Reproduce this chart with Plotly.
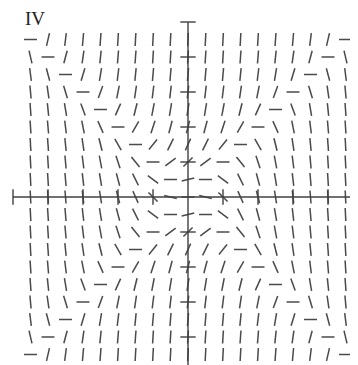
import numpy as np
from plotly import graph_objects as go

# slope field for dy/dx = y^2 - x^2, sampled on a half-unit grid
x_vals = [-4.5, -4.0, -3.5, -3.0, -2.5, -2.0, -1.5, -1.0, -0.5, 0.0,
          0.5, 1.0, 1.5, 2.0, 2.5, 3.0, 3.5, 4.0, 4.5]
y_vals = [-4.5, -4.0, -3.5, -3.0, -2.5, -2.0, -1.5, -1.0, -0.5, 0.0,
          0.5, 1.0, 1.5, 2.0, 2.5, 3.0, 3.5, 4.0, 4.5]
tick_vals = [-5, -4, -3, -2, -1, 1, 2, 3, 4, 5]
panel_label = 'IV'

SEG_LEN = 0.37
SEG_COLOR = '#4a4a4a'
AXIS_COLOR = '#404040'
W, H = 358, 365
OFF = 8  # page body margin


def slope(x, y):
    return y ** 2 - x ** 2


seg_x = []
seg_y = []
for y in y_vals:
    for x in x_vals:
        theta = np.arctan(slope(x, y))
        dx = SEG_LEN / 2 * np.cos(theta)
        dy = SEG_LEN / 2 * np.sin(theta)
        seg_x += [x - dx, x + dx, None]
        seg_y += [y - dy, y + dy, None]

fig = go.Figure()

fig.add_trace(go.Scatter(
    x=seg_x, y=seg_y, mode='lines',
    line=dict(color=SEG_COLOR, width=1.5),
    hoverinfo='skip'
))

# axes through the origin
fig.add_trace(go.Scatter(
    x=[-5, 5.5], y=[0, 0], mode='lines',
    line=dict(color=AXIS_COLOR, width=1.4), hoverinfo='skip'
))
fig.add_trace(go.Scatter(
    x=[0, 0], y=[-5.5, 5], mode='lines',
    line=dict(color=AXIS_COLOR, width=1.4), hoverinfo='skip'
))

# tick marks
fig.add_trace(go.Scatter(
    x=tick_vals, y=[0] * len(tick_vals), mode='markers',
    marker=dict(symbol='line-ns', size=11, line=dict(color=AXIS_COLOR, width=1.4)),
    hoverinfo='skip'
))
fig.add_trace(go.Scatter(
    x=[0] * len(tick_vals), y=tick_vals, mode='markers',
    marker=dict(symbol='line-ew', size=11, line=dict(color=AXIS_COLOR, width=1.4)),
    hoverinfo='skip'
))

fig.add_annotation(
    text=panel_label, xref='paper', yref='paper',
    x=15 / W, y=1 + 2 / H, xanchor='left', yanchor='top',
    showarrow=False,
    font=dict(family='Liberation Serif', size=19, color='#222222')
)

fig.update_layout(
    width=W, height=H,
    margin=dict(l=0, r=0, t=0, b=0),
    paper_bgcolor='white', plot_bgcolor='white',
    showlegend=False,
    xaxis=dict(range=[-(188 - OFF) / 35, (W - 188 + OFF) / 35], visible=False),
    yaxis=dict(range=[-(H - 197 + OFF) / 35, (197 - OFF) / 35], visible=False),
)

fig.write_html('out.html')
